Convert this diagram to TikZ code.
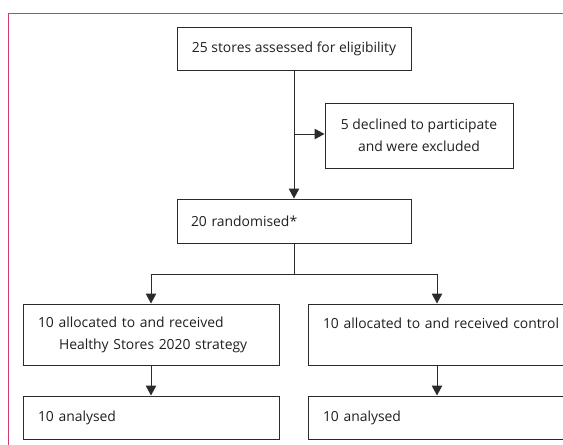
\documentclass[tikz,border=0pt]{standalone}
\usepackage{fontspec}
\setmainfont{Open Sans}
\usepackage{xcolor}
\definecolor{fcink}{HTML}{231F20}
\definecolor{fcline}{HTML}{2B2B2B}
\definecolor{fcframe}{HTML}{D03C6E}
\usepackage{tikz}
\usetikzlibrary{arrows.meta,positioning,calc}
\tikzset{
  fcbox/.style   ={rectangle, draw=fcline, fill=white, line width=1pt,
                   inner ysep=0pt, text=fcink,
                   font=\fontsize{13.9}{22}\selectfont},
  fcmid/.style   ={fcbox, align=center},
  fcleft/.style  ={fcbox, align=left, inner xsep=15pt},
  fcarrow/.style ={-{Triangle[length=10pt,width=10.5pt]}, line width=1pt, draw=fcline},
  fcframe/.style ={draw=fcframe, line width=1pt},
}

\begin{document}
\begin{tikzpicture}[x=1pt,y=-1pt]
  \useasboundingbox (0,0) rectangle (563,445);
  % page frame of the journal
  \draw[fcframe] (563,13) -- (8,13) -- (8,445);
  % enrolment
  \node[fcmid, minimum width=234pt, minimum height=43pt]
       (elig) at (294,48.5) {25 stores assessed for eligibility};
  \node[fcmid, minimum width=188pt, minimum height=65pt]
       (excl) at (419,135.5) {5 declined to participate\\and were excluded};
  \node[fcleft, inner xsep=14pt, text width=206pt, minimum height=44pt]
       (rand) at (294,221) {20 randomised*};
  \coordinate (skip) at (294,134);
  \coordinate (split) at (294,274);
  \draw[fcarrow] (elig.south) -- (rand.north);
  \draw[fcarrow] (skip) -- (skip -| excl.west);
  % allocation
  \node[fcleft, text width=226pt, minimum height=61pt]
       (alloc1) at (151,334.5) {10 allocated to and received\\\hspace*{21pt}Healthy Stores 2020 strategy};
  \node[fcleft, text width=228pt, minimum height=61pt]
       (alloc2) at (437,334.5) {\mbox{10 allocated to and received control}\\\mbox{}};
  \draw[fcarrow] (rand.south) -- (split) -| (alloc1.north);
  \draw[fcarrow] (split) -| (alloc2.north);
  % analysis
  \node[fcleft, text width=226pt, minimum height=43pt]
       (anal1) at (151,417.5) {10 analysed};
  \node[fcleft, text width=228pt, minimum height=43pt]
       (anal2) at (437,417.5) {10 analysed};
  \draw[fcarrow] (alloc1.south) -- (anal1.north);
  \draw[fcarrow] (alloc2.south) -- (anal2.north);
\end{tikzpicture}
\end{document}
